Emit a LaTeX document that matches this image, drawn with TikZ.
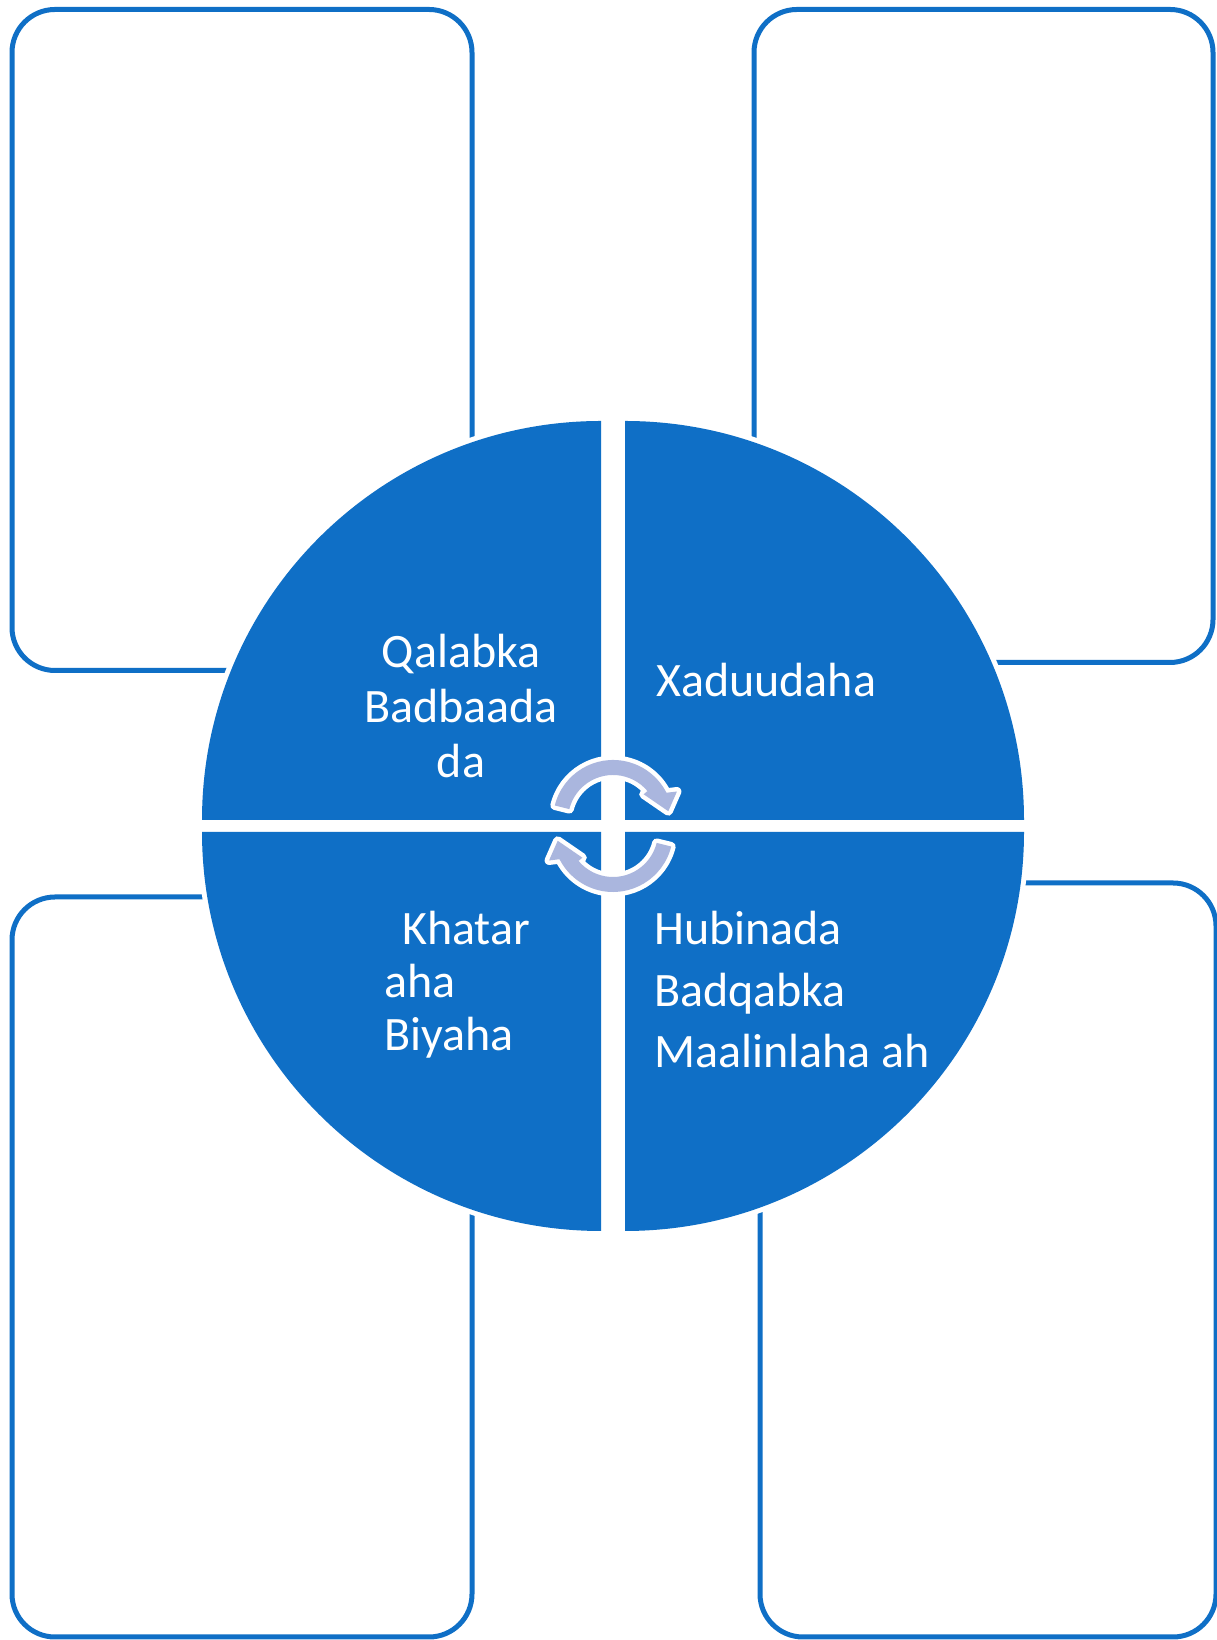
\documentclass[tikz,border=0pt]{standalone}
\usepackage{fontspec}
\setmainfont{Carlito}
\definecolor{mblue}{HTML}{0F6FC6}
\definecolor{arrowfill}{RGB}{170,182,222}
\begin{document}
\begin{tikzpicture}[x=1pt,y=1pt,
  box/.style={draw=mblue, line width=5pt, rounded corners=43pt, fill=white, inner sep=0pt, outer sep=0pt},
  quad/.style={fill=mblue, preaction={draw=white, line width=10pt}},
  lbl/.style={text=white, inner sep=0pt, font=\fontsize{48}{56}\selectfont},
  cyc/.style={fill=arrowfill, preaction={draw=white, line width=9pt, line join=round}}]
\useasboundingbox (0,0) rectangle (1217,1640);
% outer boxes
\node[box, minimum width=460pt, minimum height=661pt] (tl) at (242,1300) {};
\node[box, minimum width=459pt, minimum height=653pt] (tr) at (983.5,1304) {};
\node[box, minimum width=460pt, minimum height=740pt] (bl) at (242,373) {};
\node[box, minimum width=456pt, minimum height=754pt] (br) at (988,380) {};
% quadrants
\path[quad] (601,820) -- (202,820) arc[start angle=180, end angle=90, radius=399pt] -- cycle;
\path[quad] (625,820) -- (625,1219) arc[start angle=90, end angle=0, radius=399pt] -- cycle;
\path[quad] (601,808) -- (202,808) arc[start angle=180, end angle=270, radius=399pt] -- cycle;
\path[quad] (625,808) -- (1024,808) arc[start angle=0, end angle=-90, radius=399pt] -- cycle;
% cycle arrows
\begin{scope}[shift={(613,820)}]
\path[cyc] (166:60) arc[start angle=166, end angle=27, radius=60pt] -- (24:70) -- (9:56) -- (40:40) -- (40:45) arc[start angle=40, end angle=166, radius=45pt] -- cycle;
\end{scope}
\begin{scope}[shift={(613,808)}, rotate=180]
\path[cyc] (166:60) arc[start angle=166, end angle=27, radius=60pt] -- (24:70) -- (9:56) -- (40:40) -- (40:45) arc[start angle=40, end angle=166, radius=45pt] -- cycle;
\end{scope}
% labels
\node[lbl, anchor=base] (q1) at (461,972) {Qalabka};
\node[lbl, anchor=base] (q2) at (461,917) {Badbaada};
\node[lbl, anchor=base] (q3) at (461,862) {da};
\node[lbl, anchor=base west] (x1) at (656,943) {Xaduudaha};
\node[lbl, anchor=base west] (h1) at (654,695) {Hubinada};
\node[lbl, anchor=base west] (h2) at (654,633) {Badqabka};
\node[lbl, anchor=base west] (h3) at (654,572) {Maalinlaha ah};
\node[lbl, anchor=base west] (k1) at (402,695) {Khatar};
\node[lbl, anchor=base west] (k2) at (384,642) {aha};
\node[lbl, anchor=base west] (k3) at (384,589) {Biyaha};
\end{tikzpicture}
\end{document}
